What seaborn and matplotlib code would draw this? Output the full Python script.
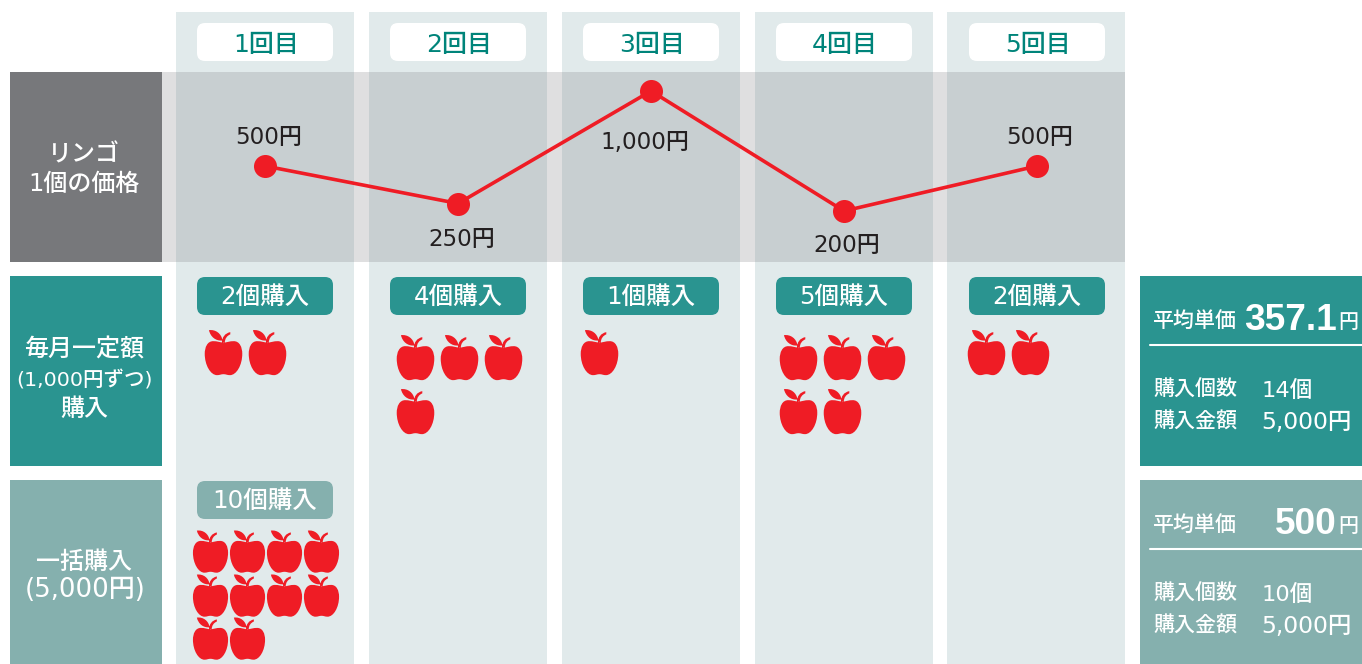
import matplotlib
matplotlib.use('Agg')
import matplotlib.pyplot as plt
import pandas as pd
import seaborn as sns
from matplotlib.patches import FancyBboxPatch, Rectangle
from matplotlib.path import Path

# --- Data ---
ROUNDS = ['1回目', '2回目', '3回目', '4回目', '5回目']
PRICES = [500, 250, 1000, 200, 500]
PRICE_LABELS = ['500円', '250円', '1,000円', '200円', '500円']
MONTHLY_COUNTS = [2, 4, 1, 5, 2]
LUMP_COUNTS = [10, 0, 0, 0, 0]
MONTHLY_LABELS = ['2個購入', '4個購入', '1個購入', '5個購入', '2個購入']
LUMP_LABEL = '10個購入'

# --- Colours ---
COL_BG = '#E1EAEB'
BAND = '#77787B'
TEAL = '#2A9490'
LIGHT_TEAL = '#85B0AE'
HEAD_TEAL = '#00847A'
RED = '#EF1C25'
DARK = '#231F20'

WIDTH, HEIGHT = 1362, 664
COL_LEFT = [176, 369, 562, 755, 947]
COL_W = 178
FS = 0.72  # px to pt at dpi 100

sns.set_theme(style='white')
plt.rcParams['font.family'] = ['DejaVu Sans', 'Noto Sans CJK JP']


def apple_marker():
    # body, leaf and stem, y up, centred on the apple
    M, C, Z = Path.MOVETO, Path.CURVE4, Path.CLOSEPOLY
    body = [(130, 217), (138, 214), (150, 211), (162, 211), (180, 211), (188, 230), (188, 250),
            (188, 285), (170, 316), (150, 316), (142, 316), (137, 313), (130, 313),
            (123, 313), (118, 316), (110, 316), (90, 316), (72, 285), (72, 250),
            (72, 230), (80, 211), (98, 211), (110, 211), (122, 214), (130, 217), (130, 217)]
    leaf = [(85, 177), (106, 174), (124, 188), (127, 209), (106, 211), (90, 198), (85, 177), (85, 177)]
    stem = [(125, 216), (126, 198), (134, 187), (151, 183), (151, 188), (151, 188), (151, 190),
            (141, 194), (134, 203), (134, 216), (130, 216), (128, 216), (125, 216), (125, 216)]
    verts, codes = [], []
    for part in (body, leaf, stem):
        verts += [((x - 130) / 70, (246 - y) / 70) for x, y in part]
        codes += [M] + [C] * (len(part) - 2) + [Z]
    return Path(verts, codes)


def apple_table(counts, first_x, first_y, pitch_x, pitch_y, per_row):
    rows = []
    for i, n in enumerate(counts):
        for k in range(n):
            rows.append({'x': first_x[i] + pitch_x * (k % per_row),
                         'y': first_y[i] + pitch_y * (k // per_row)})
    return pd.DataFrame(rows)


def box(ax, x0, y0, x1, y1, color, radius=0, z=1, alpha=1.0):
    if radius:
        ax.add_patch(FancyBboxPatch((x0 + radius, y0 + radius), x1 - x0 - 2 * radius, y1 - y0 - 2 * radius,
                                    boxstyle=f'round,pad={radius},rounding_size={radius}',
                                    fc=color, ec='none', zorder=z))
    else:
        ax.add_patch(Rectangle((x0, y0), x1 - x0, y1 - y0, fc=color, ec='none', zorder=z, alpha=alpha))


def label(ax, x, y, s, px, color='white', ha='center', **kw):
    kw.setdefault('fontweight', 500)
    ax.text(x, y + 2, s, fontsize=px * FS, color=color, ha=ha, va='center', zorder=6, **kw)


def main():
    fig = plt.figure(figsize=(WIDTH / 100, HEIGHT / 100), dpi=100, facecolor='white')

    # pixel axes for panels and apples
    ax = fig.add_axes([0, 0, 1, 1])
    ax.set_xlim(0, WIDTH)
    ax.set_ylim(HEIGHT, 0)
    ax.axis('off')

    for left in COL_LEFT:
        box(ax, left, 12, left + COL_W, 664, COL_BG)
    box(ax, 162, 72, 1125, 262, BAND, alpha=0.23, z=2)

    box(ax, 10, 72, 162, 262, BAND)
    box(ax, 10, 276, 162, 466, TEAL)
    box(ax, 10, 480, 162, 664, LIGHT_TEAL)
    box(ax, 1140, 276, 1362, 466, TEAL)
    box(ax, 1140, 480, 1362, 664, LIGHT_TEAL)

    label(ax, 84, 152, 'リンゴ', 24)
    label(ax, 84, 182, '1個の価格', 24)
    label(ax, 84, 348, '毎月一定額', 24)
    label(ax, 84, 378, '(1,000円ずつ)', 20.5)
    label(ax, 84, 407, '購入', 24)
    label(ax, 84, 560, '一括購入', 24)
    label(ax, 85, 588, '(5,000円)', 26)

    for i, name in enumerate(ROUNDS):
        x0 = 197 + 193 * i
        box(ax, x0, 23, x0 + 136, 61, 'white', radius=8, z=3)
        label(ax, x0 + 69, 43, name, 25, color=HEAD_TEAL)
        box(ax, x0, 277, x0 + 136, 315, TEAL, radius=8, z=3)
        label(ax, x0 + 68, 295, MONTHLY_LABELS[i], 24.5)
    box(ax, 197, 481, 333, 519, LIGHT_TEAL, radius=8, z=3)
    label(ax, 265, 499, LUMP_LABEL, 24.5)

    # apples
    apple = apple_marker()
    big = (23.3 * 2 * FS) ** 2
    small = (21.8 * 2 * FS) ** 2
    monthly = apple_table(MONTHLY_COUNTS, [223, 415, 599, 798, 986], [352, 357, 352, 357, 352], 44, 54, 3)
    lump = apple_table(LUMP_COUNTS, [209.5, 0, 0, 0, 0], [551, 0, 0, 0, 0], 37.3, 43.5, 4)
    for df, size in ((monthly, big), (lump, small)):
        sns.scatterplot(data=df, x='x', y='y', marker=apple, s=size, color=RED,
                        linewidth=0, ax=ax, zorder=5, legend=False)
    ax.set_xlim(0, WIDTH)
    ax.set_ylim(HEIGHT, 0)

    # price line on its own scale: 0.15 px per yen
    price_ax = fig.add_axes([0, 0, 1, 1], facecolor='none')
    prices = pd.DataFrame({'round': range(len(PRICES)), 'price': PRICES})
    sns.lineplot(data=prices, x='round', y='price', color=RED, linewidth=2.6, ax=price_ax, zorder=4)
    sns.scatterplot(data=prices, x='round', y='price', color=RED, s=275, linewidth=0, ax=price_ax, zorder=5)
    price_ax.set_xlim(-265 / 193, (WIDTH - 265) / 193)
    price_ax.set_ylim((241 - HEIGHT) / 0.15, 241 / 0.15)
    price_ax.axis('off')

    offsets = [(4, -28), (4, 36), (-6, 51), (3, 34), (3, -28)]
    for i, (p, text) in enumerate(zip(PRICES, PRICE_LABELS)):
        price_ax.annotate(text, (i, p), xytext=(offsets[i][0] * FS, -offsets[i][1] * FS),
                          textcoords='offset points', ha='center', va='center',
                          fontsize=23 * FS, color=DARK, zorder=6, fontweight=500)

    # summary panels
    for top, avg, count in ((0, '357.1', '14個'), (204, '500', '10個')):
        label(ax, 1153, 319 + top, '平均単価', 21, ha='left')
        ax.text(1337, 320 + top, avg, fontsize=37 * FS, color='white', ha='right', va='center', zorder=6,
                fontweight='bold', family=['Liberation Sans'])
        label(ax, 1338, 320 + top, '円', 20, ha='left')
        ax.plot([1150, 1362], [345 + top, 345 + top], color='white', lw=1.5, zorder=6)
        label(ax, 1153, 388 + top, '購入個数', 21, ha='left')
        label(ax, 1262, 388 + top, count, 22.5, ha='left')
        label(ax, 1153, 420 + top, '購入金額', 21, ha='left')
        label(ax, 1261, 420 + top, '5,000円', 23.5, ha='left')

    fig.savefig('out.png', dpi=100)
    plt.close(fig)


if __name__ == '__main__':
    main()
